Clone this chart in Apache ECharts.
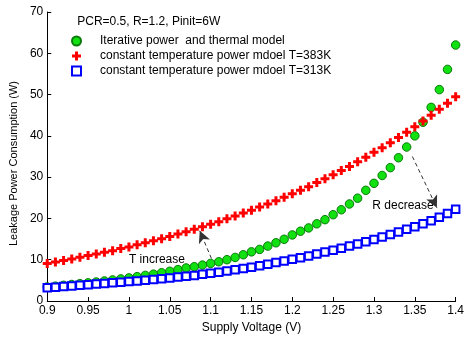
<!DOCTYPE html>
<html><head><meta charset="utf-8">
<script src="https://cdn.jsdelivr.net/npm/echarts@6/dist/echarts.min.js"></script>
<style>html,body{margin:0;padding:0;background:#fff}#c{width:467px;height:339px}</style>
</head><body><div id="c"></div><script>
const voltage = [0.90,0.91,0.92,0.93,0.94,0.95,0.96,0.97,0.98,0.99,
  1.00,1.01,1.02,1.03,1.04,1.05,1.06,1.07,1.08,1.09,
  1.10,1.11,1.12,1.13,1.14,1.15,1.16,1.17,1.18,1.19,
  1.20,1.21,1.22,1.23,1.24,1.25,1.26,1.27,1.28,1.29,
  1.30,1.31,1.32,1.33,1.34,1.35,1.36,1.37,1.38,1.39,1.40];
const iterative = [3.4,3.6,3.8,4.0,4.2,4.4,4.6,4.85,5.1,5.35,
  5.6,5.9,6.2,6.5,6.85,7.2,7.6,8.0,8.3,8.7,
  9.1,9.5,10.0,10.55,11.2,11.9,12.5,13.3,14.1,14.95,
  16.0,16.9,17.7,18.7,19.7,20.9,22.1,23.5,24.9,26.8,
  28.5,30.4,32.3,34.7,37.3,40.0,43.3,46.9,51.2,56.1,62.0];
const constT383 = [9.1,9.45,9.8,10.2,10.6,11.0,11.4,11.8,12.2,12.7,
  13.1,13.6,14.1,14.6,15.1,15.65,16.2,16.8,17.4,18.0,
  18.6,19.2,19.9,20.6,21.3,22.0,22.75,23.5,24.3,25.1,
  26.0,26.8,27.7,28.7,29.6,30.6,31.6,32.6,33.7,34.8,
  36.0,37.1,38.35,39.6,40.9,42.2,43.6,45.0,46.45,47.9,49.5];
const constT313 = [3.2,3.35,3.5,3.65,3.8,3.95,4.1,4.25,4.4,4.55,
  4.7,4.85,5.0,5.2,5.4,5.6,5.8,6.0,6.2,6.45,
  6.7,6.95,7.25,7.55,7.85,8.2,8.55,8.9,9.3,9.7,
  10.1,10.5,10.9,11.4,11.85,12.3,12.8,13.3,13.8,14.35,
  14.9,15.5,16.1,16.7,17.35,18.0,18.7,19.45,20.3,21.2,22.2];
const xTickLabels = ['0.9','0.95','1','1.05','1.1','1.15','1.2','1.25','1.3','1.35','1.4'];
const yTickLabels = ['0','10','20','30','40','50','60','70'];
const seriesNames = ['Iterative power  and thermal model',
  'constant temperature power mdoel T=383K',
  'constant temperature power mdoel T=313K'];
const paramText = 'PCR=0.5, R=1.2, Pinit=6W';
const notes = [
  {text:'T increase', at:[1.0, 10.1], from:[1.101, 10.3], to:[1.0867, 17.0]},
  {text:'R decrease', at:[1.298, 23.2], from:[1.347, 35.0], to:[1.377, 22.6]}
];

const FONT = 'Liberation Sans, Arial, Helvetica, sans-serif';
const pair = arr => voltage.map((v, i) => [v, arr[i]]);
const plusPath = 'path://M3,0H6V3H9V6H6V9H3V6H0V3H3Z';

const chart = echarts.init(document.getElementById('c'), null, {renderer:'canvas'});
chart.setOption({
  animation:false,
  backgroundColor:'#fff',
  textStyle:{fontFamily:FONT, color:'#000'},
  grid:{left:44, right:8, top:12, bottom:35, containLabel:false},
  legend:{
    orient:'vertical', left:66, top:30, itemWidth:9, itemHeight:9, itemGap:3,
    textStyle:{fontFamily:FONT, fontSize:12, color:'#000', padding:[0,0,0,14]},
    data:seriesNames
  },
  xAxis:{
    type:'value', min:0.9, max:1.4, interval:0.05,
    name:'Supply Voltage (V)', nameLocation:'middle', nameGap:21,
    nameTextStyle:{fontFamily:FONT, fontSize:12, color:'#000'},
    axisLine:{lineStyle:{color:'#000', width:1}},
    axisTick:{inside:true, length:4, lineStyle:{color:'#000'}},
    axisLabel:{fontFamily:FONT, fontSize:12, color:'#000', margin:4,
      formatter:(v)=>{const i=Math.round((v-0.9)/0.05); return xTickLabels[i] ?? '';}},
    splitLine:{show:false}
  },
  yAxis:{
    type:'value', min:0, max:70, interval:10,
    name:'Leakage Power Consumption (W)', nameLocation:'middle', nameGap:28,
    nameTextStyle:{fontFamily:FONT, fontSize:11, color:'#000', padding:[0,14,0,0]},
    axisLine:{show:true, lineStyle:{color:'#000', width:1}},
    axisTick:{show:true, inside:true, length:4, lineStyle:{color:'#000'}},
    axisLabel:{fontFamily:FONT, fontSize:12, color:'#000', margin:4,
      formatter:(v)=>{const i=Math.round(v/10); return yTickLabels[i] ?? '';}},
    splitLine:{show:false}
  },
  series:[
    {name:seriesNames[0], type:'scatter', data:pair(iterative), symbol:'circle', symbolSize:8.5,
      itemStyle:{color:'#11e011', borderColor:'#0a7a0a', borderWidth:1, opacity:1}},
    {name:seriesNames[1], type:'scatter', data:pair(constT383), symbol:plusPath, symbolSize:9,
      itemStyle:{color:'#ff0000', opacity:1}},
    {name:seriesNames[2], type:'scatter', data:pair(constT313), symbol:'rect', symbolSize:7.5,
      itemStyle:{color:'#ffffff', borderColor:'#0000ff', borderWidth:2, opacity:1},
      markLine:{
        silent:true, symbol:['none','arrow'], symbolSize:[9,12],
        lineStyle:{type:[4,3], color:'#333', width:1},
        label:{show:false},
        data:notes.map(n=>[{coord:n.from},{coord:n.to}])
      }}
  ]
});

const texts = [{text:paramText, at:[0.9367, 67.6]}].concat(notes);
chart.setOption({
  graphic: texts.map(t => {
    const p = chart.convertToPixel({gridIndex:0}, t.at);
    return {type:'text', x:p[0], y:p[1], silent:true,
      style:{text:t.text, fill:'#000', font:'12px ' + FONT, textVerticalAlign:'middle', textAlign:'left'}};
  })
});
</script></body></html>
